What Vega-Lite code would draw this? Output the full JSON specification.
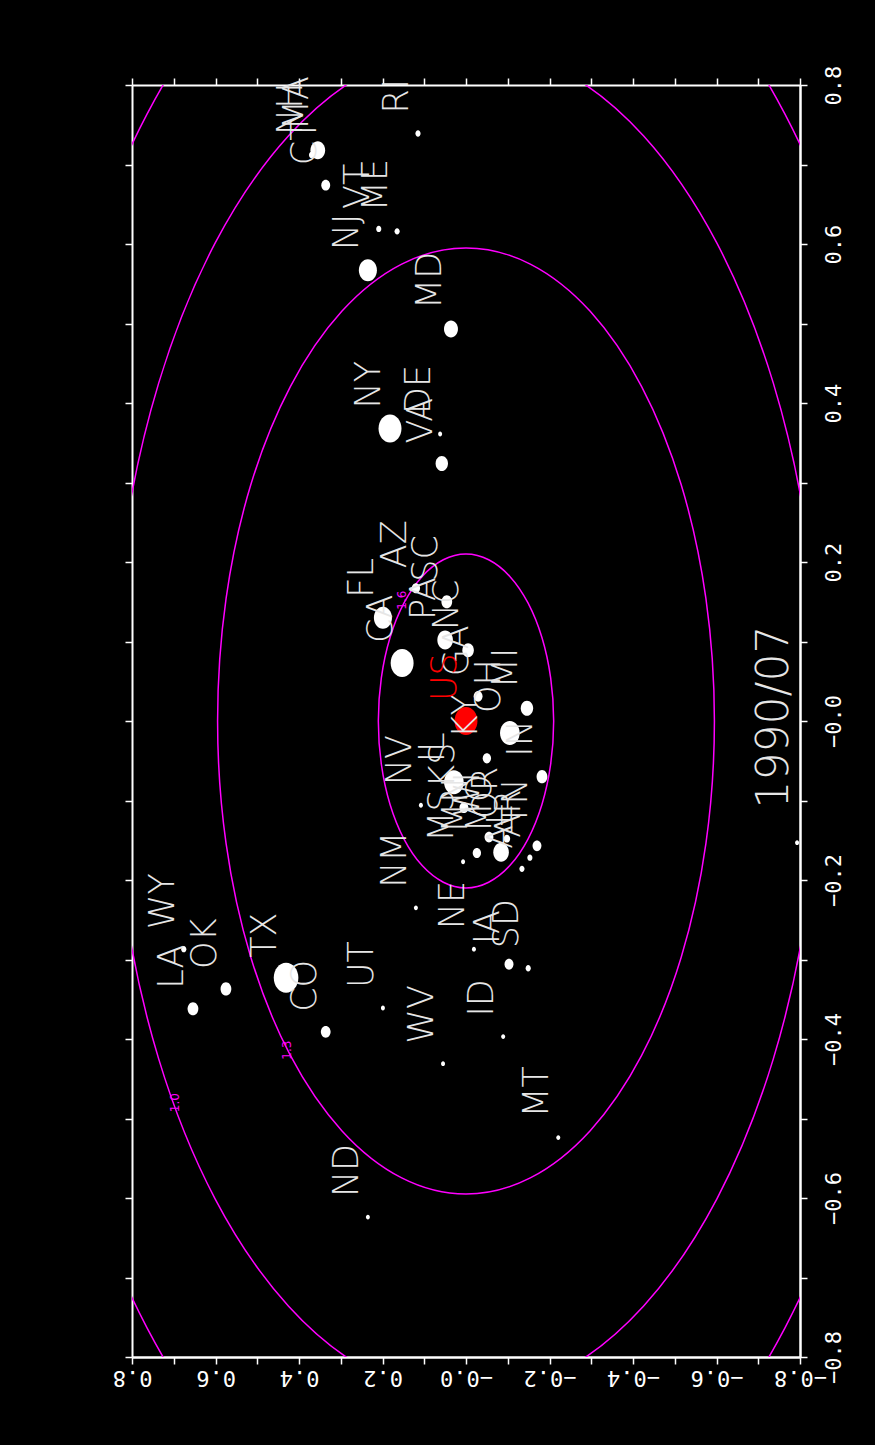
{
  "$schema": "https://vega.github.io/schema/vega-lite/v6.json",
  "width": 668,
  "height": 1272,
  "autosize": {"type": "none"},
  "padding": {"left": 132, "top": 85, "right": 75, "bottom": 88},
  "background": "black",
  "config": {
    "view": {"stroke": null},
    "axis": {
      "domainColor": "white", "domainWidth": 2, "tickColor": "white", "tickWidth": 1.5,
      "tickSize": 7, "labelColor": "white", "grid": false, "title": null,
      "labelFont": "DejaVu Sans Mono", "labelFontSize": 22, "labelFlush": false,
      "labelOverlap": false, "labelBound": false
    }
  },
  "datasets": {
    "cont": [
      {"c":1,"i":0,"h":0.21,"v":0},{"c":1,"i":1,"h":0.2028,"v":0.0543},{"c":1,"i":2,"h":0.1819,"v":0.105},{"c":1,"i":3,"h":0.1485,"v":0.1485},{"c":1,"i":4,"h":0.105,"v":0.1819},{"c":1,"i":5,"h":0.0543,"v":0.2028},{"c":1,"i":6,"h":0,"v":0.21},{"c":1,"i":7,"h":-0.0543,"v":0.2028},{"c":1,"i":8,"h":-0.105,"v":0.1819},{"c":1,"i":9,"h":-0.1485,"v":0.1485},{"c":1,"i":10,"h":-0.1819,"v":0.105},{"c":1,"i":11,"h":-0.2028,"v":0.0543},{"c":1,"i":12,"h":-0.21,"v":0},{"c":1,"i":13,"h":-0.2028,"v":-0.0543},{"c":1,"i":14,"h":-0.1819,"v":-0.105},{"c":1,"i":15,"h":-0.1485,"v":-0.1485},{"c":1,"i":16,"h":-0.105,"v":-0.1819},{"c":1,"i":17,"h":-0.0543,"v":-0.2028},{"c":1,"i":18,"h":0,"v":-0.21},{"c":1,"i":19,"h":0.0543,"v":-0.2028},{"c":1,"i":20,"h":0.105,"v":-0.1819},{"c":1,"i":21,"h":0.1485,"v":-0.1485},{"c":1,"i":22,"h":0.1819,"v":-0.105},{"c":1,"i":23,"h":0.2028,"v":-0.0543},
      {"c":2,"i":0,"h":0.595,"v":0},{"c":2,"i":1,"h":0.5747,"v":0.154},{"c":2,"i":2,"h":0.5153,"v":0.2975},{"c":2,"i":3,"h":0.4207,"v":0.4207},{"c":2,"i":4,"h":0.2975,"v":0.5153},{"c":2,"i":5,"h":0.154,"v":0.5747},{"c":2,"i":6,"h":0,"v":0.595},{"c":2,"i":7,"h":-0.154,"v":0.5747},{"c":2,"i":8,"h":-0.2975,"v":0.5153},{"c":2,"i":9,"h":-0.4207,"v":0.4207},{"c":2,"i":10,"h":-0.5153,"v":0.2975},{"c":2,"i":11,"h":-0.5747,"v":0.154},{"c":2,"i":12,"h":-0.595,"v":0},{"c":2,"i":13,"h":-0.5747,"v":-0.154},{"c":2,"i":14,"h":-0.5153,"v":-0.2975},{"c":2,"i":15,"h":-0.4207,"v":-0.4207},{"c":2,"i":16,"h":-0.2975,"v":-0.5153},{"c":2,"i":17,"h":-0.154,"v":-0.5747},{"c":2,"i":18,"h":0,"v":-0.595},{"c":2,"i":19,"h":0.154,"v":-0.5747},{"c":2,"i":20,"h":0.2975,"v":-0.5153},{"c":2,"i":21,"h":0.4207,"v":-0.4207},{"c":2,"i":22,"h":0.5153,"v":-0.2975},{"c":2,"i":23,"h":0.5747,"v":-0.154},
      {"c":3,"i":0,"h":0.85,"v":0},{"c":3,"i":1,"h":0.821,"v":0.22},{"c":3,"i":2,"h":0.7361,"v":0.425},{"c":3,"i":3,"h":0.601,"v":0.601},{"c":3,"i":4,"h":0.425,"v":0.7361},{"c":3,"i":5,"h":0.22,"v":0.821},{"c":3,"i":6,"h":0,"v":0.85},{"c":3,"i":7,"h":-0.22,"v":0.821},{"c":3,"i":8,"h":-0.425,"v":0.7361},{"c":3,"i":9,"h":-0.601,"v":0.601},{"c":3,"i":10,"h":-0.7361,"v":0.425},{"c":3,"i":11,"h":-0.821,"v":0.22},{"c":3,"i":12,"h":-0.85,"v":0},{"c":3,"i":13,"h":-0.821,"v":-0.22},{"c":3,"i":14,"h":-0.7361,"v":-0.425},{"c":3,"i":15,"h":-0.601,"v":-0.601},{"c":3,"i":16,"h":-0.425,"v":-0.7361},{"c":3,"i":17,"h":-0.22,"v":-0.821},{"c":3,"i":18,"h":0,"v":-0.85},{"c":3,"i":19,"h":0.22,"v":-0.821},{"c":3,"i":20,"h":0.425,"v":-0.7361},{"c":3,"i":21,"h":0.601,"v":-0.601},{"c":3,"i":22,"h":0.7361,"v":-0.425},{"c":3,"i":23,"h":0.821,"v":-0.22},
      {"c":4,"i":0,"h":1.08,"v":0},{"c":4,"i":1,"h":1.0432,"v":0.2795},{"c":4,"i":2,"h":0.9353,"v":0.54},{"c":4,"i":3,"h":0.7637,"v":0.7637},{"c":4,"i":4,"h":0.54,"v":0.9353},{"c":4,"i":5,"h":0.2795,"v":1.0432},{"c":4,"i":6,"h":0,"v":1.08},{"c":4,"i":7,"h":-0.2795,"v":1.0432},{"c":4,"i":8,"h":-0.54,"v":0.9353},{"c":4,"i":9,"h":-0.7637,"v":0.7637},{"c":4,"i":10,"h":-0.9353,"v":0.54},{"c":4,"i":11,"h":-1.0432,"v":0.2795},{"c":4,"i":12,"h":-1.08,"v":0},{"c":4,"i":13,"h":-1.0432,"v":-0.2795},{"c":4,"i":14,"h":-0.9353,"v":-0.54},{"c":4,"i":15,"h":-0.7637,"v":-0.7637},{"c":4,"i":16,"h":-0.54,"v":-0.9353},{"c":4,"i":17,"h":-0.2795,"v":-1.0432},{"c":4,"i":18,"h":0,"v":-1.08},{"c":4,"i":19,"h":0.2795,"v":-1.0432},{"c":4,"i":20,"h":0.54,"v":-0.9353},{"c":4,"i":21,"h":0.7637,"v":-0.7637},{"c":4,"i":22,"h":0.9353,"v":-0.54},{"c":4,"i":23,"h":1.0432,"v":-0.2795}
    ],
    "pts": [
      {"s":"RI","h":0.115,"v":0.739,"w":5},
      {"s":"MD","h":0.036,"v":0.493,"w":37},
      {"s":"NY","h":0.182,"v":0.368,"w":100},
      {"s":"DE","h":0.062,"v":0.361,"w":3},
      {"s":"VA","h":0.058,"v":0.324,"w":29},
      {"s":"NJ","h":0.235,"v":0.567,"w":62},
      {"s":"ME","h":0.165,"v":0.616,"w":5},
      {"s":"VT","h":0.209,"v":0.619,"w":5},
      {"s":"CT","h":0.336,"v":0.674,"w":15},
      {"s":"MA","h":0.355,"v":0.718,"w":41},
      {"s":"NH","h":0.37,"v":0.712,"w":5},
      {"s":"WY","h":0.676,"v":-0.287,"w":5},
      {"s":"LA","h":0.654,"v":-0.362,"w":22},
      {"s":"OK","h":0.575,"v":-0.337,"w":22},
      {"s":"TX","h":0.431,"v":-0.323,"w":115},
      {"s":"CO","h":0.336,"v":-0.391,"w":18},
      {"s":"UT","h":0.199,"v":-0.361,"w":3},
      {"s":"NM","h":0.12,"v":-0.235,"w":3},
      {"s":"NV","h":0.108,"v":-0.106,"w":3},
      {"s":"NE","h":-0.019,"v":-0.287,"w":3},
      {"s":"IA","h":-0.103,"v":-0.306,"w":15},
      {"s":"SD","h":-0.149,"v":-0.311,"w":5},
      {"s":"ID","h":-0.089,"v":-0.397,"w":3},
      {"s":"WV","h":0.055,"v":-0.431,"w":3},
      {"s":"MT","h":-0.221,"v":-0.524,"w":3},
      {"s":"ND","h":0.235,"v":-0.624,"w":3},
      {"s":"FL","h":0.199,"v":0.13,"w":62},
      {"s":"CA","h":0.153,"v":0.073,"w":100},
      {"s":"AZ","h":0.12,"v":0.167,"w":13},
      {"s":"SC","h":0.046,"v":0.15,"w":22},
      {"s":"PA","h":0.05,"v":0.102,"w":46},
      {"s":"NC","h":-0.005,"v":0.089,"w":25},
      {"s":"GA","h":-0.029,"v":0.031,"w":15},
      {"s":"MI","h":-0.146,"v":0.016,"w":29},
      {"s":"OH","h":-0.105,"v":-0.015,"w":73},
      {"s":"KY","h":-0.05,"v":-0.047,"w":13},
      {"s":"IL","h":0.029,"v":-0.077,"w":73},
      {"s":"IN","h":-0.182,"v":-0.07,"w":22},
      {"s":"KS","h":0.005,"v":-0.109,"w":15},
      {"s":"WI","h":-0.055,"v":-0.146,"w":15},
      {"s":"MN","h":-0.026,"v":-0.166,"w":13},
      {"s":"MO","h":-0.084,"v":-0.165,"w":46},
      {"s":"TN","h":-0.17,"v":-0.157,"w":15},
      {"s":"AR","h":-0.153,"v":-0.172,"w":5},
      {"s":"AL","h":-0.134,"v":-0.186,"w":5},
      {"s":"MS","h":0.007,"v":-0.177,"w":3},
      {"s":"OR","h":-0.098,"v":-0.148,"w":8},
      {"s":"WA","h":-0.793,"v":-0.153,"w":3},
      {"s":"US","h":0.0,"v":0.0,"w":100}
    ],
    "clab": [
      {"t":"1.6","h":0.153,"v":0.152},
      {"t":"1.3","h":0.429,"v":-0.414},
      {"t":"1.0","h":0.697,"v":-0.48}
    ],
    "date": [{"t":"1990/07","h":-0.741,"v":0.005}]
  },
  "layer": [
    {
      "data": {"name": "cont"},
      "mark": {"type": "line", "color": "#ff00ff", "strokeWidth": 1.5, "interpolate": "cardinal-closed", "clip": true},
      "encoding": {
        "x": {"field": "h", "type": "quantitative",
              "scale": {"domain": [-0.8, 0.8], "reverse": true, "nice": false, "zero": false},
              "axis": {"orient": "bottom", "values": [-0.8,-0.6,-0.4,-0.2,0,0.2,0.4,0.6,0.8],
                       "labelAngle": 180, "labelAlign": "center", "labelBaseline": "alphabetic", "labelPadding": 6,
                       "labelExpr": "abs(datum.value) < 0.001 ? '\u22120.0' : format(datum.value, '.1f')"}},
        "y": {"field": "v", "type": "quantitative",
              "scale": {"domain": [-0.8, 0.8], "nice": false, "zero": false},
              "axis": {"orient": "right", "values": [-0.8,-0.6,-0.4,-0.2,0,0.2,0.4,0.6,0.8],
                       "labelAngle": 270, "labelAlign": "center", "labelBaseline": "alphabetic", "labelPadding": 33,
                       "labelExpr": "abs(datum.value) < 0.001 ? '\u22120.0' : format(datum.value, '.1f')"}},
        "detail": {"field": "c", "type": "nominal"},
        "order": {"field": "i", "type": "quantitative"}
      }
    },
    {
      "data": {"name": "pts"},
      "mark": {"type": "point", "filled": true, "opacity": 1, "shape": "M0,-1A0.82,1,0,1,1,0,1A0.82,1,0,1,1,0,-1Z", "clip": true},
      "encoding": {
        "x": {"field": "h", "type": "quantitative", "scale": {"domain": [-0.8, 0.8], "reverse": true, "nice": false, "zero": false},
              "axis": {"orient": "top", "labels": false, "values": [-0.8,-0.7,-0.6,-0.5,-0.4,-0.3,-0.2,-0.1,0,0.1,0.2,0.3,0.4,0.5,0.6,0.7,0.8]}},
        "y": {"field": "v", "type": "quantitative", "scale": {"domain": [-0.8, 0.8], "nice": false, "zero": false},
              "axis": {"orient": "left", "labels": false, "values": [-0.8,-0.7,-0.6,-0.5,-0.4,-0.3,-0.2,-0.1,0,0.1,0.2,0.3,0.4,0.5,0.6,0.7,0.8]}},
        "size": {"field": "w", "type": "quantitative", "scale": {"domain": [0, 100], "range": [0, 784]}, "legend": null},
        "color": {"condition": {"test": "datum.s === 'US'", "value": "#ff0000"}, "value": "white"}
      }
    },
    {
      "data": {"name": "pts"},
      "transform": [{"filter": "datum.s !== 'WA'"}],
      "mark": {"type": "text", "angle": 270, "align": "left", "baseline": "middle", "dx": 20, "dy": -21,
               "font": "DejaVu Sans", "fontSize": 35, "fontWeight": 200},
      "encoding": {
        "x": {"field": "h", "type": "quantitative",
              "axis": {"orient": "bottom", "labels": false, "values": [-0.7,-0.5,-0.3,-0.1,0.1,0.3,0.5,0.7]}},
        "y": {"field": "v", "type": "quantitative",
              "axis": {"orient": "right", "labels": false, "values": [-0.7,-0.5,-0.3,-0.1,0.1,0.3,0.5,0.7]}},
        "text": {"field": "s"},
        "color": {"condition": {"test": "datum.s === 'US'", "value": "#ff0000"}, "value": "#e6e6e6"}
      }
    },
    {
      "data": {"name": "clab"},
      "mark": {"type": "text", "angle": 270, "align": "center", "baseline": "middle", "font": "DejaVu Sans", "fontSize": 12, "color": "#ff00ff"},
      "encoding": {
        "x": {"field": "h", "type": "quantitative", "axis": null},
        "y": {"field": "v", "type": "quantitative", "axis": null},
        "text": {"field": "t"}
      }
    },
    {
      "data": {"name": "date"},
      "mark": {"type": "text", "angle": 270, "align": "center", "baseline": "middle", "font": "DejaVu Sans", "fontSize": 44, "fontWeight": 200, "color": "#e6e6e6"},
      "encoding": {
        "x": {"field": "h", "type": "quantitative", "axis": null},
        "y": {"field": "v", "type": "quantitative", "axis": null},
        "text": {"field": "t"}
      }
    }
  ],
  "resolve": {"axis": {"x": "independent", "y": "independent"}}
}
